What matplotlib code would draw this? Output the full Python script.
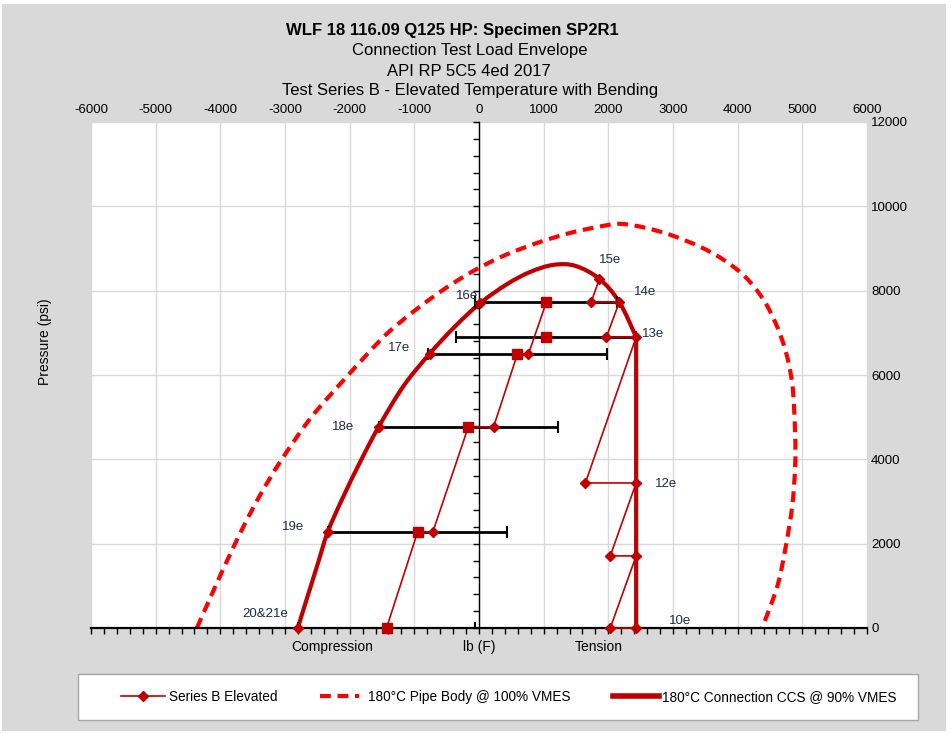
import numpy as np
import matplotlib
matplotlib.use("Agg")
import matplotlib.pyplot as plt
from matplotlib.lines import Line2D
from matplotlib.patches import Rectangle, PathPatch
from matplotlib.path import Path

plt.rcParams['font.family'] = ['Liberation Sans', 'DejaVu Sans']

# ---------------- data ----------------
# 180°C Pipe Body @ 100% VMES (dashed envelope)
pipe_x = [-4363, -4116, -3869, -3622, -3375, -3066, -2602, -2062, -1521, -1212, -857, -486,
          -85, 378, 903, 1413, 1923, 2185, 2541, 2958, 3421, 3807, 4147, 4456, 4703, 4842,
          4888, 4888, 4842, 4734, 4610, 4378]
pipe_y = [0, 854, 1684, 2467, 3179, 3962, 4982, 5931, 6833, 7260, 7687, 8090,
          8470, 8826, 9134, 9371, 9537, 9585, 9502, 9324, 9039, 8707, 8280, 7640, 6762, 5813,
          4626, 3820, 2871, 1851, 973, 0]

# 180°C Connection CCS @ 90% VMES (thick solid envelope): arc, then straight drop
ccs_x = [-2803, -2649, -2494, -2340, -2108, -1830, -1552, -1166, -765, -378, 23, 440,
         795, 1151, 1490, 1861, 2170, 2430]
ccs_y = [0, 759, 1518, 2275, 3084, 3962, 4770, 5741, 6500, 7141, 7710, 8161,
         8446, 8612, 8588, 8280, 7730, 6900]
ccs_drop_x = [2430, 2430]
ccs_drop_y = [6900, 0]

# Series B Elevated – tension side path (diamonds)
serb_x = [2430, 2030, 2430, 2030, 2430, 1645, 2430, 1970, 2170, 1735, 1861]
serb_y = [0, 0, 1710, 1710, 3440, 3440, 6900, 6900, 7730, 7730, 8280]

# Series B Elevated – compression side envelope points (diamonds)
env_left_x = [23, -765, -1552, -2340, -2803]
env_left_y = [7710, 6500, 4770, 2275, 0]

# Bending path (square centre -> diamond -> next square)
bend_x = [-1430, -950, -715, -165, 225, 595, 765, 1040]
bend_y = [0, 2275, 2275, 4770, 4770, 6500, 6500, 7720]
bend_dia_x = [-715, 225, 765]
bend_dia_y = [2275, 4770, 6500]

# Centre points (squares) with bending range error bars
sq_x = [-1430, -950, -165, 595, 1040, 1040]
sq_y = [0, 2275, 4770, 6500, 6900, 7720]
sq_err = [1375, 1390, 1385, 1385, 1390, 1100]

# Load point labels
lbl_text = ['10e', '12e', '13e', '14e', '15e', '16e', '17e', '18e', '19e', '20&21e']
lbl_x = [2430, 2430, 2430, 2170, 1861, 23, -765, -1552, -2340, -2803]
lbl_y = [0, 3440, 6900, 7730, 8280, 7710, 6500, 4770, 2275, 0]

top_ticks = list(range(-6000, 6001, 1000))
right_ticks = list(range(0, 12001, 2000))
bottom_words = ['Compression', 'lb (F)', 'Tension']
bottom_word_x = [-2263, 0, 1846]


def smooth_path(xs, ys, tail=None):
    """Smoothed (Catmull-Rom style Bezier) line through the given points, like a
    spreadsheet 'smoothed line'."""
    P = np.column_stack([xs, ys]).astype(float)
    n = len(P)
    verts = [P[0]]
    codes = [Path.MOVETO]
    for i in range(n - 1):
        p0 = P[i - 1] if i > 0 else P[i]
        p1, p2 = P[i], P[i + 1]
        p3 = P[i + 2] if i + 2 < n else P[i + 1]
        verts += [p1 + (p2 - p0) / 6.0, p2 - (p3 - p1) / 6.0, p2]
        codes += [Path.CURVE4] * 3
    if tail is not None:
        for tx, ty in zip(*tail):
            verts.append([tx, ty])
            codes.append(Path.LINETO)
    return Path(verts, codes)


# ---------------- figure ----------------
W, H = 951, 734
fig = plt.figure(figsize=(W / 100, H / 100), dpi=100, facecolor='white')


def fx(px):
    return px / W


def fy(py):
    return 1 - py / H


fig.add_artist(Rectangle((fx(2), fy(731)), fx(944), 727 / H, transform=fig.transFigure,
                         facecolor='#d9d9d9', edgecolor='none', zorder=-10))

ax = fig.add_axes([fx(91), fy(628), fx(867 - 91), (628 - 122) / H])
ax.set_facecolor('white')
ax.set_xlim(-6000, 6000)
ax.set_ylim(0, 12000)

for v in range(-6000, 6001, 1000):
    ax.axvline(v, color='#d9d9d9', lw=1, zorder=0)
for h in range(2000, 12001, 2000):
    ax.axhline(h, color='#d9d9d9', lw=1, zorder=0)

ax.spines['top'].set_visible(False)
ax.spines['right'].set_visible(False)
ax.spines['left'].set_position(('data', 0))
ax.spines['left'].set_linewidth(1.0)
ax.spines['bottom'].set_linewidth(1.6)
ax.spines['left'].set_zorder(1)
ax.set_xticks(np.arange(-6000, 6001, 200))
ax.set_xticklabels([])
ax.set_yticks(np.arange(0, 12001, 400))
ax.set_yticklabels([])
ax.tick_params(axis='x', direction='out', length=4, width=1)
ax.tick_params(axis='y', direction='out', length=4, width=1)

secx = ax.secondary_xaxis('top')
secx.set_xticks(top_ticks)
secx.set_xticklabels([str(t) for t in top_ticks])
secx.tick_params(length=0, pad=4.5, labelsize=9.5)
secx.spines['top'].set_visible(False)

secy = ax.secondary_yaxis('right')
secy.set_yticks(right_ticks)
secy.set_yticklabels([str(t) for t in right_ticks])
secy.tick_params(length=0, pad=3, labelsize=9.5)
secy.spines['right'].set_visible(False)

red = '#c00000'
dash = (0, (2.6, 1.6))

ax.add_patch(PathPatch(smooth_path(pipe_x, pipe_y), fill=False, edgecolor='#ff0000', lw=3,
                       linestyle=dash, zorder=2, clip_on=False, capstyle='butt'))
ax.add_patch(PathPatch(smooth_path(ccs_x, ccs_y, tail=(ccs_drop_x, ccs_drop_y)), fill=False,
                       edgecolor=red, lw=3, zorder=3, joinstyle='miter'))

ax.errorbar(sq_x, sq_y, xerr=sq_err, fmt='none', ecolor='black', elinewidth=2,
            capsize=4, capthick=1.5, zorder=4)

ax.plot(serb_x, serb_y, color=red, lw=1.2, marker='D', ms=5, mfc=red, mec=red, zorder=5,
        clip_on=False)
ax.plot(env_left_x, env_left_y, ls='none', marker='D', ms=5, mfc=red, mec=red, zorder=5,
        clip_on=False)
ax.plot(bend_x, bend_y, color=red, lw=1.2, zorder=5)
ax.plot(bend_dia_x, bend_dia_y, ls='none', marker='D', ms=5, mfc=red, mec=red, zorder=6)
ax.plot(sq_x, sq_y, ls='none', marker='s', ms=7.5, mfc=red, mec=red, zorder=6, clip_on=False)

# label offsets (pixels) : dx, dy, ha
offs = [(33, 7, 'left'), (19, -1, 'left'), (6, 3, 'left'), (15, 10, 'left'), (0, 19, 'left'),
        (-2, 7, 'right'), (-19, 6, 'right'), (-24, 0, 'right'), (-23, 5, 'right'),
        (-10, 14, 'right')]
for t, x, y, (dx, dy, ha) in zip(lbl_text, lbl_x, lbl_y, offs):
    ax.annotate(t, (x, y), xytext=(dx * 0.72, dy * 0.72), textcoords='offset points',
                ha=ha, va='center', fontsize=9.5, color='#1f2a44', zorder=7,
                annotation_clip=False)

# bottom category labels
for t, x in zip(bottom_words, bottom_word_x):
    ax.annotate(t, (x, 0), xytext=(0, -19 * 0.72), textcoords='offset points',
                ha='center', va='center', fontsize=10, annotation_clip=False)

fig.text(fx(45), fy(342), 'Pressure (psi)', rotation=90, ha='center', va='center', fontsize=10)

# titles
fig.text(fx(452), fy(30), 'WLF 18 116.09 Q125 HP: Specimen SP2R1', ha='center', va='center',
         fontsize=12, fontweight='bold')
fig.text(fx(470), fy(51), 'Connection Test Load Envelope', ha='center', va='center', fontsize=12)
fig.text(fx(469), fy(71), 'API RP 5C5 4ed 2017', ha='center', va='center', fontsize=12)
fig.text(fx(470), fy(90), 'Test Series B - Elevated Temperature with Bending', ha='center',
         va='center', fontsize=12)

# legend box and three positioned entries
fig.add_artist(Rectangle((fx(78), fy(720)), fx(840), 46 / H, transform=fig.transFigure,
                         facecolor='white', edgecolor='#a6a6a6', lw=1, zorder=1))
entries = [
    (Line2D([], [], color=red, lw=1.2, marker='D', ms=5), 'Series B Elevated', 121, 3.2, 0.3),
    (Line2D([], [], color='#ff0000', lw=3, ls=dash), '180°C Pipe Body @ 100% VMES', 320, 2.85, 0.65),
    (Line2D([], [], color=red, lw=4), '180°C Connection CCS @ 90% VMES', 613, 3.4, 0.2),
]
for hnd, lab, px, hl, htp in entries:
    lg = fig.legend([hnd], [lab], loc='center left', bbox_to_anchor=(fx(px), fy(697)),
                    frameon=False, fontsize=9.8, handlelength=hl, handletextpad=htp,
                    borderpad=0, borderaxespad=0)
    lg.set_zorder(2)

fig.savefig('out.png', dpi=100, facecolor=fig.get_facecolor())
